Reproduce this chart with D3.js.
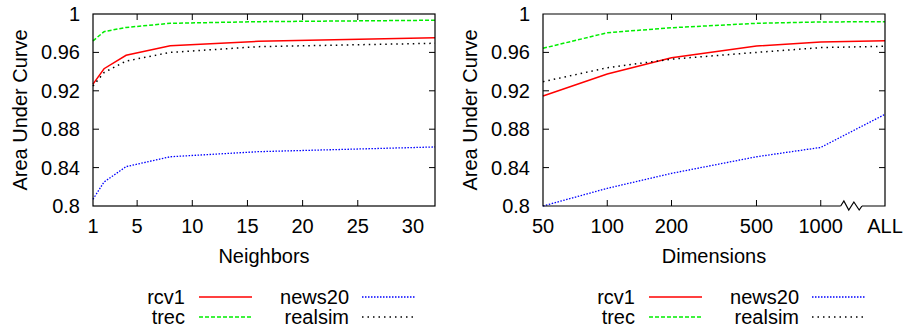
<!DOCTYPE html>
<html><head><meta charset="utf-8">
<script src="https://cdn.jsdelivr.net/npm/d3@7"></script>
<style>body{margin:0;background:#fff}svg text{font-family:"Liberation Sans",Arial,sans-serif;fill:#000}</style>
</head><body><svg id="c" width="903" height="329"></svg>
<script>
const seriesNames = ["rcv1","trec","news20","realsim"];
const neighbors = [1,2,4,8,16,32];
const neighborTicks = [1,5,10,15,20,25,30];
const nbRcv1    = [0.927,0.943,0.957,0.967,0.9715,0.9753];
const nbTrec    = [0.972,0.9816,0.986,0.9903,0.992,0.9935];
const nbNews20  = [0.807,0.825,0.841,0.8513,0.8566,0.8615];
const nbRealsim = [0.925,0.939,0.951,0.960,0.966,0.9695];
const dims = [50,100,200,500,1000,2000];
const dimTickLabels = ["50","100","200","500","1000","ALL"];
const dmRcv1    = [0.9146,0.9375,0.9545,0.9667,0.9708,0.9722];
const dmTrec    = [0.9643,0.9805,0.9857,0.9903,0.9917,0.992];
const dmNews20  = [0.800,0.8184,0.834,0.8513,0.861,0.8955];
const dmRealsim = [0.9295,0.944,0.953,0.960,0.965,0.9664];
const yTicks = [0.8,0.84,0.88,0.92,0.96,1];
const yTickLabels = ["0.8","0.84","0.88","0.92","0.96","1"];

const styles = {
  rcv1:{color:"#ff0000",dash:null,w:1.5},
  trec:{color:"#00ee00",dash:"4,2",w:1.5},
  news20:{color:"#0000ff",dash:"1.5,1.5",w:1.3},
  realsim:{color:"#000000",dash:"1.5,4",w:1.5}
};

const svg = d3.select("#c");
const FS = 20;

function panel(ox, xs, xVals, xTicks, xTickFmt, xTitle, data, brk){
  const top=14, bottom=206, left=93+ox, right=435+ox;
  const x = xs.range([left,right]);
  const y = d3.scaleLinear().domain([0.8,1]).range([bottom,top]);
  const g = svg.append("g");
  const tl=6;
  xTicks.forEach((t,i)=>{
    const px=x(t);
    if(i>0 && i<xTicks.length-1){
      g.append("line").attr("x1",px).attr("x2",px).attr("y1",bottom).attr("y2",bottom-tl).attr("stroke","#000");
      g.append("line").attr("x1",px).attr("x2",px).attr("y1",top).attr("y2",top+tl).attr("stroke","#000");
    }
    g.append("text").attr("x",px).attr("y",233).attr("text-anchor","middle").attr("font-size",FS).text(xTickFmt(t,i));
  });
  yTicks.forEach((t,i)=>{
    const py=y(t);
    if(i>0 && i<yTicks.length-1){
      g.append("line").attr("x1",left).attr("x2",left+tl).attr("y1",py).attr("y2",py).attr("stroke","#000");
      g.append("line").attr("x1",right).attr("x2",right-tl).attr("y1",py).attr("y2",py).attr("stroke","#000");
    }
    g.append("text").attr("x",left-13).attr("y",py+7).attr("text-anchor","end").attr("font-size",FS).text(yTickLabels[i]);
  });
  const line = d3.line().x((d,i)=>x(xVals[i])).y(d=>y(d));
  seriesNames.forEach(n=>{
    const s=styles[n];
    g.append("path").datum(data[n]).attr("d",line).attr("fill","none")
      .attr("stroke",s.color).attr("stroke-width",s.w).attr("stroke-dasharray",s.dash);
  });
  if(brk){
    const bx0=x(brk[0]), bx1=x(brk[1]);
    g.append("path").attr("fill","none").attr("stroke","#000").attr("stroke-width",1.2)
      .attr("d",`M${bx0},${bottom}L${left},${bottom}L${left},${top}L${right},${top}L${right},${bottom}L${bx1},${bottom}`);
    const w=bx1-bx0;
    g.append("path").attr("fill","none").attr("stroke","#000").attr("stroke-width",1.2)
      .attr("d",`M${bx0},${bottom}L${bx0+w*0.15},${bottom-5}L${bx0+w*0.38},${bottom+4}L${bx0+w*0.62},${bottom-4}L${bx0+w*0.87},${bottom+4}L${bx1},${bottom}`);
  } else {
    g.append("rect").attr("x",left).attr("y",top).attr("width",right-left).attr("height",bottom-top)
      .attr("fill","none").attr("stroke","#000").attr("stroke-width",1.2);
  }
  g.append("text").attr("x",(left+right)/2).attr("y",263).attr("text-anchor","middle").attr("font-size",FS).text(xTitle);
  g.append("text").attr("transform",`translate(${27+ox},${(top+bottom)/2}) rotate(-90)`).attr("text-anchor","middle").attr("font-size",FS).text("Area Under Curve");
  const leg=[["rcv1",185,199,297],["trec",185,199,317],["news20",349,362,297],["realsim",349,362,317]];
  leg.forEach(([n,tx,sx,ly])=>{
    const s=styles[n];
    g.append("text").attr("x",tx+ox).attr("y",ly+7).attr("text-anchor","end").attr("font-size",FS).text(n);
    g.append("line").attr("x1",sx+ox).attr("x2",sx+53+ox).attr("y1",ly).attr("y2",ly)
      .attr("stroke",s.color).attr("stroke-width",s.w).attr("stroke-dasharray",s.dash);
  });
}

panel(0, d3.scaleLinear().domain([1,32]), neighbors, neighborTicks, t=>String(t), "Neighbors",
  {rcv1:nbRcv1,trec:nbTrec,news20:nbNews20,realsim:nbRealsim}, null);
panel(450, d3.scaleLog().domain([50,2000]), dims, dims, (t,i)=>dimTickLabels[i], "Dimensions",
  {rcv1:dmRcv1,trec:dmTrec,news20:dmNews20,realsim:dmRealsim}, [1240,1560]);
</script></body></html>
